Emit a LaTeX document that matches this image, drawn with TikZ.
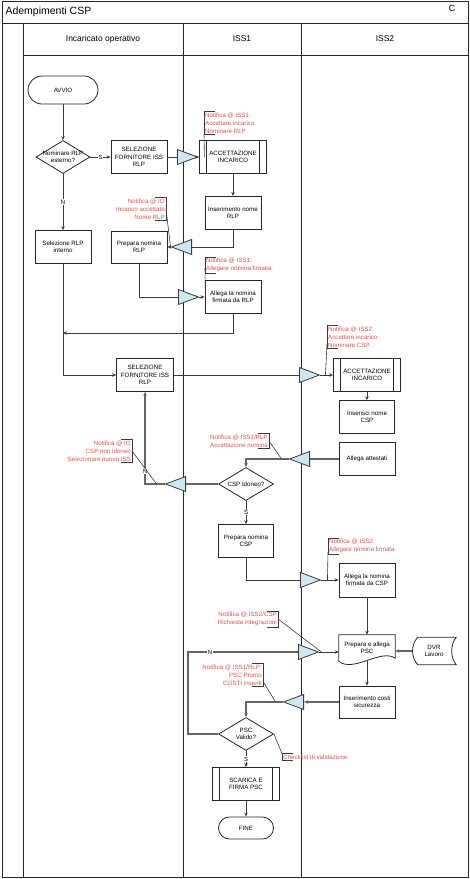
\documentclass[tikz,border=0pt]{standalone}
\usepackage{fontspec}
\setmainfont{Liberation Sans}
\usepackage{xcolor}
\usepackage{tikz}
\usetikzlibrary{shapes.geometric, arrows.meta, positioning, calc}
\definecolor{trifill}{HTML}{CDE8EF}
\definecolor{notered}{HTML}{D9534F}
\definecolor{flowgray}{HTML}{3A3A3A}

\begin{document}
\begin{tikzpicture}[
    x=1pt, y=-1pt,
    lane/.style={draw=black!85, line width=0.9pt},
    box/.style={rectangle, draw=black!85, fill=white, line width=0.8pt, minimum width=56pt, minimum height=33pt, align=center, inner sep=1pt, font=\fontsize{6.2}{7.4}\selectfont},
    subproc/.style={box, minimum width=67pt, path picture={
        \draw[line width=0.8pt] ([xshift=7pt]path picture bounding box.north west) -- ([xshift=7pt]path picture bounding box.south west);
        \draw[line width=0.8pt] ([xshift=-7pt]path picture bounding box.north east) -- ([xshift=-7pt]path picture bounding box.south east);}},
    term/.style={box, rounded corners=11pt, minimum width=55pt, minimum height=22pt},
    decision/.style={diamond, draw=black!85, fill=white, line width=0.8pt, minimum width=55pt, minimum height=33pt, inner sep=0pt},
    dtxt/.style={font=\fontsize{6.2}{7.4}\selectfont, align=center, inner sep=0pt},
    plain/.style={rectangle, inner sep=1pt, align=center, font=\fontsize{6.2}{7.4}\selectfont, minimum width=56pt},
    shapeline/.style={draw=black!85, line width=0.8pt},
    tri/.style={isosceles triangle, isosceles triangle stretches, draw=flowgray, fill=trifill, line width=0.8pt, minimum width=15pt, minimum height=20pt, inner sep=0pt},
    trir/.style={tri, shape border rotate=0, anchor=lower side},
    tril/.style={tri, shape border rotate=180, anchor=lower side},
    note/.style={font=\fontsize{6.2}{7.8}\selectfont, text=notered, inner sep=1pt},
    bracket/.style={draw=flowgray, line width=0.6pt},
    flow/.style={draw=flowgray, line width=0.9pt},
    flowthick/.style={draw=black!60, line width=1.4pt},
    arrow/.style={flow, -{Stealth[length=4pt, width=3.5pt]}},
    arrowthick/.style={flowthick, -{Stealth[length=4pt, width=3.5pt]}},
    yn/.style={fill=white, inner sep=0.6pt, font=\fontsize{6}{7}\selectfont}
]
\useasboundingbox (0,0) rectangle (470,879);

% Frame and swimlanes
\draw[lane] (2,1) rectangle (468,877);
\draw[lane] (2,23) -- (468,23);
\draw[lane] (23,55) -- (468,55);
\draw[lane] (23,23) -- (23,877);
\draw[lane] (183,23) -- (183,877);
\draw[lane] (301,23) -- (301,877);
\node[anchor=west, font=\fontsize{10.5}{12}\selectfont] (title) at (2,12) {Adempimenti CSP};
\node[font=\fontsize{9}{10}\selectfont] (corner) at (452,8) {C};
\node[font=\fontsize{8.5}{10}\selectfont] (lane1) at (103,39) {Incaricato operativo};
\node[font=\fontsize{8.5}{10}\selectfont] (lane2) at (242,39) {ISS1};
\node[font=\fontsize{8.5}{10}\selectfont] (lane3) at (385,39) {ISS2};

% Incaricato operativo
\node[term, minimum width=70pt, minimum height=28pt, rounded corners=14pt] (avvio) at (63,90) {AVVIO};
\node[decision, minimum width=54pt, label={[dtxt]center:{Nominare RLP\\esterno?}}] (q1) at (63,157) {};
\node[box] (sel1) at (139,157) {SELEZIONE\\FORNITORE ISS\\RLP};
\node[box] (selint) at (63,247) {Selezione RLP\\interno};
\node[box, minimum height=32pt] (prepRLP) at (139,247) {Prepara nomina\\RLP};
\node[box, minimum width=57pt] (sel2) at (145,375) {SELEZIONE\\FORNITORE ISS\\RLP};

% ISS1
\node[subproc] (acc1) at (233,157) {ACCETTAZIONE\\INCARICO};
\node[box, below=22pt of acc1] (insRLP) {Inserimento nome\\RLP};
\node[box] (allRLP) at (233,297) {Allega la nomina\\firmata da RLP};
\node[decision, label={[dtxt]center:CSP Idoneo?}] (q2) at (246,484) {};
\node[box, minimum width=55pt] (prepCSP) at (246,541) {Prepara nomina\\CSP};
\node[decision, label={[dtxt]center:{PSC\\Valido?}}] (q3) at (246,734) {};
\node[subproc] (scarica) at (246,784) {SCARICA E\\FIRMA PSC};
\node[term] (fine) at (246,828) {FINE};

% ISS2
\node[subproc] (acc2) at (367,375) {ACCETTAZIONE\\INCARICO};
\node[box, minimum width=55pt] (insCSP) at (367,417) {Inserisci nome\\CSP};
\node[box] (allatt) at (367,459) {Allega attestati};
\node[box, minimum height=34pt] (allCSP) at (367,580) {Allega la nomina\\firmata da CSP};
\node[plain, minimum height=26pt] (psc) at (367,648) {Prepara e allega\\PSC};
\draw[shapeline] (psc.south west) |- (psc.north east) -- ([yshift=3pt]psc.south east)
    .. controls ([xshift=-14pt,yshift=13pt]psc.south east) and ([xshift=14pt,yshift=-12pt]psc.south west) .. (psc.south west);
\node[plain, minimum width=44pt, minimum height=27pt] (dvr) at (434,651) {DVR\\Lavoro};
\draw[shapeline] ([xshift=6pt]dvr.north west) -- (dvr.north east)
    .. controls ([xshift=-6pt,yshift=-7pt]dvr.north east) and ([xshift=-6pt,yshift=7pt]dvr.south east) .. (dvr.south east)
    -- ([xshift=6pt]dvr.south west)
    .. controls ([xshift=-1pt,yshift=7pt]dvr.south west) and ([xshift=-1pt,yshift=-7pt]dvr.north west) .. ([xshift=6pt]dvr.north west);
\node[box, minimum height=32pt] (costi) at (367,702) {Inserimento costi\\sicurezza};

% Off-lane connectors
\node[trir] (t1) at (177,157) {};
\node[tril] (t2) at (192,247) {};
\node[trir] (t3) at (178,297) {};
\node[trir] (t4) at (299,375) {};
\node[tril] (t5) at (310,459) {};
\node[tril] (t6) at (186,484) {};
\node[trir] (t7) at (300,580) {};
\node[trir] (t8) at (298,652) {};
\node[tril] (t9) at (304,702) {};

% Flow
\draw[arrow] (avvio) -- (q1);
\draw[arrow] (q1) -- node[yn] {S} (sel1);
\draw[arrow] (q1) -- node[yn] {N} (selint);
\draw[flow] (sel1) -- (t1.lower side);
\draw[arrow] (t1.apex) -- (acc1);
\draw[arrow] (acc1) -- (insRLP);
\draw[flow] (insRLP.south) |- (t2.lower side);
\draw[arrow] (t2.apex) -- (prepRLP);
\draw[flow] (prepRLP.south) |- (t3.lower side);
\draw[arrow] (t3.apex) -- (allRLP);
\coordinate (j1) at (63,333);
\draw[arrow] (allRLP.south) |- (j1);
\draw[arrow] (selint.south) |- (sel2.west);
\draw[flow] (sel2) -- (t4.lower side);
\draw[arrow] (t4.apex) -- (acc2);
\draw[arrow] (acc2) -- (insCSP);
\draw[flowthick] (allatt) -- (t5.lower side);
\draw[arrowthick] (t5.apex) -| (q2.north);
\draw[flowthick] (q2.west) -- (t6.lower side);
\draw[arrowthick] (t6.apex) -| node[yn, pos=0.57] {N} (sel2.south);
\draw[arrow] (q2) -- node[yn] {S} (prepCSP);
\draw[flow] (prepCSP.south) |- (t7.lower side);
\draw[arrow] (t7.apex) -- (allCSP);
\draw[arrow] (allCSP) -- (psc);
\draw[arrowthick] (dvr.west) -- (dvr.west -| psc.east);
\draw[arrow] (psc.south) -- (costi.north);
\draw[arrowthick] (costi) -- (t9.lower side);
\draw[arrowthick] (t9.apex) -| (q3.north);
\draw[flowthick] (q3.west) -- ++(-30,0) |- node[yn, pos=0.6] {N} (t8.lower side);
\draw[arrow] (t8.apex) -- (t8.apex -| psc.west);
\draw[arrow] (q3) -- node[yn] {S} (scarica);
\draw[arrow] (scarica) -- (fine);

% Notifications
\node[note, anchor=west, align=left] (n1) at (204,123) {Notifica @ ISS1:\\Accettare incarico\\Nominare RLP};
\draw[bracket] ([xshift=11pt]n1.north west) -- (n1.north west) -- (n1.south west) -- ([xshift=11pt]n1.south west);
\draw[bracket] (n1.south west) -- ([xshift=6pt]t1.apex);

\node[note, anchor=east, align=right] (n2) at (166,209) {Notifica @ IO\\Incarico accettato\\Nome RLP};
\draw[bracket] ([xshift=-11pt]n2.north east) -- (n2.north east) -- (n2.south east) -- ([xshift=-11pt]n2.south east);
\draw[bracket] (n2.east) -- (t2.apex);

\node[note, anchor=west, align=left] (n3) at (205,265) {Notifica @ ISS1:\\Allegare nomina firmata};
\draw[bracket] ([xshift=11pt]n3.north west) -- (n3.north west) -- (n3.south west) -- ([xshift=11pt]n3.south west);
\draw[bracket] ([yshift=-3pt]n3.west) -- ([xshift=6pt]t3.apex);

\node[note, anchor=west, align=left] (n4) at (327,337) {Notifica @ ISS2:\\Accettare incarico\\Nominare CSP};
\draw[bracket] ([xshift=11pt]n4.north west) -- (n4.north west) -- (n4.south west) -- ([xshift=11pt]n4.south west);
\draw[bracket] ([yshift=4pt]n4.south west) -- ([xshift=5pt]t4.apex);

\node[note, anchor=east, align=right] (n5) at (269,441) {Notifica @ ISS1/RLP\\Accettazione nomina};
\draw[bracket] ([xshift=-11pt]n5.north east) -- (n5.north east) -- (n5.south east) -- ([xshift=-11pt]n5.south east);
\draw[bracket] (n5.east) -- ([xshift=-7pt]t5.apex);

\node[note, anchor=east, align=right] (n6) at (132,451) {Notifica @ IO\\CSP non idoneo\\Selezionare nuovo ISS};
\draw[bracket] ([xshift=-11pt]n6.north east) -- (n6.north east) -- (n6.south east) -- ([xshift=-11pt]n6.south east);
\draw[bracket] (n6.east) -- ([xshift=-8pt]t6.apex);

\node[note, anchor=west, align=left] (n7) at (328,546) {Notifica @ ISS2:\\Allegare nomina firmata};
\draw[bracket] ([xshift=11pt]n7.north west) -- (n7.north west) -- (n7.south west) -- ([xshift=11pt]n7.south west);
\draw[bracket] ([yshift=2pt]n7.south west) -- ([xshift=6pt]t7.apex);

\node[note, anchor=east, align=right] (n8) at (278,619) {Notifica @ ISS2/CSP\\Richiesta integrazioni};
\draw[bracket] ([xshift=-11pt]n8.north east) -- (n8.north east) -- (n8.south east) -- ([xshift=-11pt]n8.south east);
\draw[bracket] (n8.east) -- ([xshift=2pt]t8.apex);

\node[note, anchor=east, align=right] (n9) at (263,675) {Notifica @ ISS1/RLP:\\PSC Pronto\\COSTI inseriti};
\draw[bracket] ([xshift=-11pt]n9.north east) -- (n9.north east) -- (n9.south east) -- ([xshift=-11pt]n9.south east);
\draw[bracket] ([yshift=5pt]n9.south east) -- ([xshift=-7pt]t9.apex);

\node[note, anchor=west] (n10) at (282,757) {Checklist di validazione};
\draw[bracket] ([xshift=11pt]n10.north west) -- (n10.north west) -- (n10.south west) -- ([xshift=11pt]n10.south west);
\draw[bracket] (q3.east) -- (n10.north west);

\end{tikzpicture}
\end{document}
